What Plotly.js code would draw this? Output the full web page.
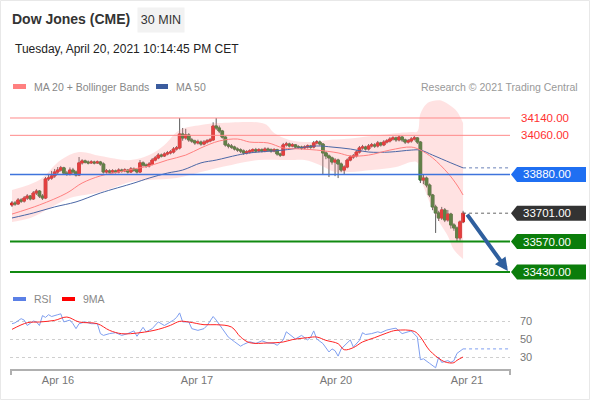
<!DOCTYPE html>
<html><head><meta charset="utf-8">
<script src="https://cdn.plot.ly/plotly-3.0.1.min.js"></script>
<style>html,body{margin:0;padding:0;background:#fff}#chart{width:590px;height:400px}</style>
</head><body><div id="chart"></div>
<script>
// ---- Data (30-min candles, Dow Jones CME) ----
const opens = [33739,33748,33744,33762,33757,33771,33780,33767,33794,33803,
 33780,33771,33859,33863,33873,33891,33900,33910,33886,33882,
 33900,33891,33877,33933,33942,33937,33933,33937,33933,33937,
 33928,33891,33896,33891,33896,33891,33900,33896,33900,33891,
 33905,33900,33891,33933,33923,33919,33928,33946,33956,33969,
 33965,33974,33979,33983,33997,34002,34066,34048,34062,34039,
 34034,34025,34029,34020,34029,34034,34039,34103,34094,34080,
 34052,34016,34011,34006,33997,33993,33988,33979,33983,33988,
 33993,33988,33993,33988,33997,33993,33988,33993,33974,33969,
 34016,34020,34011,34016,34006,34006,34002,34006,34011,34006,
 34025,34029,34020,33979,33965,33956,33937,33946,33928,33900,
 33914,33946,33960,33965,33983,34002,34006,33997,34011,34016,
 34011,34025,34016,34029,34034,34043,34048,34039,34052,34039,
 34029,34034,34043,34048,34029,33854,33863,33831,33785,33730,
 33702,33679,33716,33670,33697,33647,33633,33587,33661];
const highs = [33757,33757,33771,33770,33780,33789,33785,33803,33812,33808,
 33789,33868,33882,33896,33905,33914,33919,33915,33896,33912,
 33910,33898,33960,33950,33948,33944,33945,33943,33944,33942,
 33935,33905,33903,33904,33902,33908,33906,33908,33905,33914,
 33912,33906,33946,33940,33930,33937,33955,33965,33978,33976,
 33982,33988,33992,34006,34011,34140,34094,34090,34070,34048,
 34040,34040,34036,34038,34043,34048,34120,34140,34105,34085,
 34056,34025,34020,34012,34004,34000,33995,33992,33996,34000,
 34002,34001,34000,34005,34004,34000,34001,33998,33980,34025,
 34030,34026,34024,34020,34014,34012,34014,34018,34016,34034,
 34038,34036,34024,33986,33972,33962,33955,33952,33935,33922,
 33954,33968,33974,33992,34011,34016,34012,34020,34025,34024,
 34034,34030,34038,34043,34052,34056,34054,34060,34057,34045,
 34043,34052,34057,34052,34034,33880,33870,33838,33790,33740,
 33712,33730,33725,33716,33703,33655,33640,33668,33712];
const lows = [33730,33735,33739,33748,33750,33762,33760,33762,33785,33771,
 33762,33766,33850,33855,33864,33882,33893,33878,33873,33875,
 33880,33870,33872,33925,33930,33926,33928,33926,33928,33920,
 33884,33884,33885,33886,33884,33885,33888,33890,33884,33886,
 33892,33884,33886,33915,33910,33912,33922,33940,33950,33958,
 33960,33968,33972,33976,33990,33995,34035,34040,34030,34025,
 34016,34018,34012,34014,34022,34028,34034,34085,34070,34045,
 34008,34000,33998,33990,33984,33978,33970,33972,33976,33980,
 33980,33982,33981,33982,33986,33980,33982,33966,33960,33964,
 34008,34004,34005,33998,33998,33994,33996,33999,33998,34000,
 34018,34012,33877,33950,33868,33925,33872,33863,33890,33880,
 33908,33940,33952,33958,33976,33994,33990,33990,34004,34002,
 34004,34008,34010,34022,34027,34036,34030,34032,34030,34020,
 34022,34026,34036,34020,33840,33835,33820,33775,33715,33610,
 33665,33670,33660,33662,33630,33620,33568,33575,33655];
const closes = [33748,33744,33762,33757,33771,33780,33767,33794,33803,33780,
 33771,33859,33863,33873,33891,33900,33910,33886,33882,33900,
 33891,33877,33933,33942,33937,33933,33937,33933,33937,33928,
 33891,33896,33891,33896,33891,33900,33896,33900,33891,33905,
 33900,33891,33933,33923,33919,33928,33946,33956,33969,33965,
 33974,33979,33983,33997,34002,34066,34048,34062,34039,34034,
 34025,34029,34020,34029,34034,34039,34103,34094,34080,34052,
 34016,34011,34006,33997,33993,33988,33979,33983,33988,33993,
 33988,33993,33988,33997,33993,33988,33993,33974,33969,34016,
 34020,34011,34016,34006,34006,34002,34006,34011,34006,34025,
 34029,34020,33979,33965,33956,33937,33946,33928,33900,33914,
 33946,33960,33965,33983,34002,34006,33997,34011,34016,34011,
 34025,34016,34029,34034,34043,34048,34039,34052,34039,34029,
 34034,34043,34048,34029,33854,33863,33831,33785,33730,33702,
 33679,33716,33670,33697,33647,33633,33587,33661,33701];

// Bollinger bands / moving averages (candle index, value)
const bbUpIdx = [0,9,16,22,29,39,45,50,55,62,68,83,86,91,98,104,109,118,127,131,133,134,136,138,141,144,146,148];
const bbUpper = [33808,33854,33946,33983,33965,33946,33969,34016,34085,34108,34117,34112,34071,34039,34029,34039,34043,34057,34071,34075,34078,34160,34205,34218,34220,34195,34170,34117];
const bbLoIdx = [0,6,13,19,29,39,45,54,62,72,81,91,96,101,106,111,118,126,131,133,134,135,138,140,143,145,148];
const bbLower = [33661,33679,33730,33771,33799,33845,33854,33863,33891,33923,33946,33946,33946,33923,33891,33891,33900,33914,33937,33935,33860,33825,33720,33665,33596,33532,33490];
const ma20Idx = [0,9,18,23,29,35,40,45,51,57,62,68,74,78,84,89,95,100,107,111,117,124,131,134,138,143,146,148];
const ma20Val = [33697,33739,33794,33840,33873,33891,33905,33919,33946,33969,34002,34034,34043,34029,34025,34002,33997,33992,33979,33965,33969,33992,34006,33992,33956,33886,33831,33785];
const ma50Idx = [0,7,14,21,29,40,45,51,56,62,67,74,78,89,100,105,111,117,124,131,134,138,144,148];
const ma50Val = [33679,33702,33730,33753,33794,33840,33863,33886,33900,33933,33946,33969,33979,33992,34011,34006,33997,33983,33983,33992,33992,33969,33933,33910];

// RSI and its 9-period MA (candle index, value)
const rsiIdx = [0,1,3,4,5,7,8,9,10,11,12,13,15,16,17,19,20,21,22,24,26,28,29,30,32,34,36,38,40,41,43,44,46,48,50,51,53,54,55,56,58,59,61,63,64,66,67,69,70,71,73,75,76,78,80,82,84,86,87,89,90,92,93,95,97,98,99,100,102,104,105,106,107,108,110,111,112,114,115,116,118,120,121,123,125,126,127,128,130,131,133,134,135,136,137,139,140,141,143,144,145,146,148];
const rsiVal = [67,68,72.6,71,65,70,69,65,76,74,77,75,77,78,69,71,67,61.5,67,69,67,67,56,54,56,57,54,56,59,53,63,58,61.5,69,65,67,71,74,79,69,69,61.5,59.6,61.5,65,75,71,61.5,56,52,47,42,44,47,45,48,45.6,45,43,49,58,52,50,54,49,52,59,50,45,35.6,39,37,31,39,45,49,41,48.5,57,55,56,58,57,60,61.5,62,59,56,58,59,52,27,28,25,23,18,30,24,26,24,26,34,39];
const ma9Idx = [0,5,9,14,18,22,28,32,36,42,48,52,55,58,63,67,72,75,78,84,89,92,97,100,103,107,109,112,115,119,123,126,132,134,137,141,143,145,146,148];
const ma9Val = [60.7,68.1,68.9,70.7,74.4,68.9,67,59.6,55.9,57,60.7,65.2,69.6,68.9,65.9,65.9,63.3,52.2,45.9,45.6,46.7,49.3,51.5,52.2,48.5,44.8,38.1,40.4,46.7,51.5,56.7,59.6,58.5,52.2,37.4,26.3,23.7,23.7,26.3,30];

// Key levels
const resistances = [34140, 34060];
const pivotLevel = 33880;
const supports = [33570, 33430];
const lastPrice = 33701;

// Axis tick labels (candle index of each day label)
const tickPos = [15.1, 60.7, 106.3, 149.3];
const tickLabels = ['Apr 16', 'Apr 17', 'Apr 20', 'Apr 21'];

// ---- Layout helpers ----
const W = 590, H = 400, ML = 10, MR = 80;
const PW = W - ML - MR;
const px2x = px => (px - ML) / PW;
const px2y = py => 1 - py / H;
const N = closes.length;
const idx = closes.map((_, i) => i);
const xRange = [-0.656, 163.4];
const mainTop = 95, mainBot = 280;
const yRange = [33393, 34246];
const rsiTop = 305, rsiBot = 369;
const rsiRange = [16.67, 87.78];
const FONT = 'Liberation Sans, Arial, sans-serif';

const UP = '#dc2626', DN = '#2e7d32', WICK = '#5c5c5c';
const bodyHigh = opens.map((o, i) => Math.max(o, closes[i]));
const bodyLow = opens.map((o, i) => Math.min(o, closes[i]));

const traces = [
  {x: bbLoIdx, y: bbLower, mode: 'lines', line: {width: 0, shape: 'spline'}, hoverinfo: 'skip', xaxis: 'x', yaxis: 'y'},
  {x: bbUpIdx, y: bbUpper, mode: 'lines', line: {width: 0, shape: 'spline'}, fill: 'tonexty', fillcolor: 'rgba(255,140,140,0.25)', hoverinfo: 'skip', xaxis: 'x', yaxis: 'y'},
  {x: ma50Idx, y: ma50Val, mode: 'lines', line: {color: '#4b67a6', width: 1, shape: 'spline'}, xaxis: 'x', yaxis: 'y'},
  {x: ma20Idx, y: ma20Val, mode: 'lines', line: {color: '#ff8080', width: 1, shape: 'spline'}, xaxis: 'x', yaxis: 'y'},
  {type: 'candlestick', x: idx, open: opens, high: highs, low: lows, close: closes,
   increasing: {line: {color: WICK, width: 1}, fillcolor: WICK},
   decreasing: {line: {color: WICK, width: 1}, fillcolor: WICK},
   whiskerwidth: 0, hoverinfo: 'skip', xaxis: 'x', yaxis: 'y'},
  {type: 'candlestick', x: idx, open: opens, high: bodyHigh, low: bodyLow, close: closes,
   increasing: {line: {color: UP, width: 1}, fillcolor: UP},
   decreasing: {line: {color: DN, width: 1}, fillcolor: DN},
   whiskerwidth: 0, hoverinfo: 'skip', xaxis: 'x', yaxis: 'y'},
  {x: rsiIdx, y: rsiVal, mode: 'lines', line: {color: '#7f9ff0', width: 1}, xaxis: 'x2', yaxis: 'y2'},
  {x: ma9Idx, y: ma9Val, mode: 'lines', line: {color: '#ff2424', width: 1, shape: 'spline'}, xaxis: 'x2', yaxis: 'y2'}
];

const yPerPx = (yRange[1] - yRange[0]) / (mainBot - mainTop);
function labelBox(val, color) {
  const hh = 7.5 * yPerPx;
  const xl = px2x(511), xb = px2x(517), xr = px2x(586);
  return {type: 'path', xref: 'paper', yref: 'y', layer: 'above',
    path: `M ${xl},${val} L ${xb},${val + hh} L ${xr},${val + hh} L ${xr},${val - hh} L ${xb},${val - hh} Z`,
    fillcolor: color, line: {width: 0}};
}
function hline(val, color, width) {
  return {type: 'line', xref: 'paper', yref: 'y', x0: 0, x1: 1, y0: val, y1: val, line: {color: color, width: width}};
}
function rectPx(x0, y0, x1, y1, color) {
  return {type: 'rect', xref: 'paper', yref: 'paper', x0: px2x(x0), x1: px2x(x1), y0: px2y(y1), y1: px2y(y0), fillcolor: color, line: {width: 0}};
}
const lastMa50 = ma50Val[ma50Val.length - 1];
const lastRsi = rsiVal[rsiVal.length - 1];

const shapes = [
  {type: 'rect', xref: 'paper', yref: 'paper', x0: px2x(0.5), x1: px2x(589.5), y0: px2y(399.5), y1: px2y(0.5), line: {color: '#e8e8e8', width: 1}},
  ...resistances.map(v => hline(v, '#ff8a8a', 1)),
  hline(pivotLevel, '#3f74dc', 1.5),
  ...supports.map(v => hline(v, '#118a11', 2)),
  {type: 'line', xref: 'x', yref: 'y', x0: N - 1, x1: xRange[1], y0: lastPrice, y1: lastPrice, line: {color: '#666', width: 1, dash: 'dot'}},
  {type: 'line', xref: 'x', yref: 'y', x0: N - 1, x1: xRange[1], y0: lastMa50, y1: lastMa50, line: {color: '#6a80b8', width: 1, dash: 'dot'}},
  {type: 'line', xref: 'x2', yref: 'y2', x0: N - 1, x1: xRange[1] - 0.5, y0: lastRsi, y1: lastRsi, line: {color: '#7f9ff0', width: 1, dash: 'dot'}},
  labelBox(pivotLevel, '#1f6ff2'),
  labelBox(lastPrice, '#333333'),
  ...supports.map(v => labelBox(v, '#0b7d0b')),
  rectPx(13, 84, 26, 89, '#ff8080'),
  rectPx(156, 84, 168, 89, '#3b5c9e'),
  rectPx(13, 297, 26, 301, '#5b80e6'),
  rectPx(62, 297, 75, 301, '#ff0000'),
  {type: 'line', xref: 'paper', yref: 'paper', x0: px2x(11), x1: px2x(11), y0: px2y(369), y1: px2y(375), line: {color: '#b0b0b0', width: 2}},
  {type: 'line', xref: 'paper', yref: 'paper', x0: px2x(510), x1: px2x(510), y0: px2y(369), y1: px2y(375), line: {color: '#b0b0b0', width: 2}}
];

function txt(text, xpx, ypx, size, color, anchor) {
  return {text: text, xref: 'paper', yref: 'paper', x: px2x(xpx), y: px2y(ypx), xanchor: anchor || 'left', yanchor: 'middle', showarrow: false, font: {family: FONT, size: size, color: color}};
}
const fmt = v => v.toFixed(2);
const annotations = [
  {text: '30 MIN', xref: 'paper', yref: 'paper', x: px2x(137), y: px2y(7), xanchor: 'left', yanchor: 'top', width: 46, height: 24, borderpad: 0, bgcolor: '#f2f2f2', showarrow: false, align: 'center', valign: 'middle', font: {family: FONT, size: 12.5, color: '#333'}},
  txt('Tuesday, April 20, 2021 10:14:45 PM CET', 13, 49, 12, '#222'),
  txt('MA 20 + Bollinger Bands', 32, 86.5, 10.5, '#888'),
  txt('MA 50', 174, 86.5, 10.5, '#888'),
  txt('Research © 2021 Trading Central', 580, 86.5, 10.5, '#999', 'right'),
  txt('RSI', 32, 299, 10.5, '#888'),
  txt('9MA', 81, 299, 10.5, '#888'),
  ...resistances.map(v => ({text: fmt(v), xref: 'paper', yref: 'y', x: px2x(519), y: v, xanchor: 'left', yanchor: 'middle', showarrow: false, font: {family: FONT, size: 11.5, color: '#ff3030'}})),
  ...[pivotLevel, lastPrice, ...supports].map(v => ({text: fmt(v), xref: 'paper', yref: 'y', x: px2x(520.5), y: v, xanchor: 'left', yanchor: 'middle', showarrow: false, font: {family: FONT, size: 11.5, color: '#ffffff'}})),
  {text: '', xref: 'x', yref: 'y', x: xRange[1] - 0.7, y: supports[1] + 5, axref: 'x', ayref: 'y', ax: N, ay: lastPrice,
   showarrow: true, arrowhead: 2, arrowsize: 0.65, arrowwidth: 4, arrowcolor: '#2f5f9e', standoff: 0}
];

const layout = {
  width: W, height: H,
  margin: {l: ML, r: MR, t: 0, b: 0, pad: 0},
  paper_bgcolor: '#ffffff', plot_bgcolor: 'rgba(0,0,0,0)',
  showlegend: false, hovermode: false,
  boxgap: 0.12, boxgroupgap: 0.05,
  title: {text: '<b>Dow Jones (CME)</b>', xref: 'container', yref: 'container', x: 12 / W, xanchor: 'left', y: 1 - 19 / H, yanchor: 'middle', font: {family: FONT, size: 14, color: '#333'}},
  font: {family: FONT},
  xaxis: {domain: [0, 1], range: xRange, anchor: 'y', visible: false, rangeslider: {visible: false}, fixedrange: true},
  yaxis: {domain: [px2y(mainBot), px2y(mainTop)], range: yRange, anchor: 'x', visible: false, fixedrange: true},
  xaxis2: {domain: [0, 1], range: xRange, anchor: 'y2', showline: true, linecolor: '#b0b0b0', linewidth: 2,
    tickmode: 'array', tickvals: tickPos, ticktext: tickLabels, ticks: '', showgrid: false, zeroline: false,
    tickfont: {family: FONT, size: 11, color: '#777'}, fixedrange: true},
  yaxis2: {domain: [px2y(rsiBot), px2y(rsiTop)], range: rsiRange, anchor: 'x2', side: 'right',
    tickmode: 'array', tickvals: [30, 50, 70], showgrid: true, gridcolor: '#cfcfcf', griddash: 'dot', gridwidth: 1,
    zeroline: false, showline: false, ticks: '', ticklabelstandoff: 9,
    tickfont: {family: FONT, size: 11, color: '#777'}, fixedrange: true},
  shapes: shapes,
  annotations: annotations
};

Plotly.newPlot('chart', traces, layout, {staticPlot: true, displayModeBar: false});
</script>
</body></html>
